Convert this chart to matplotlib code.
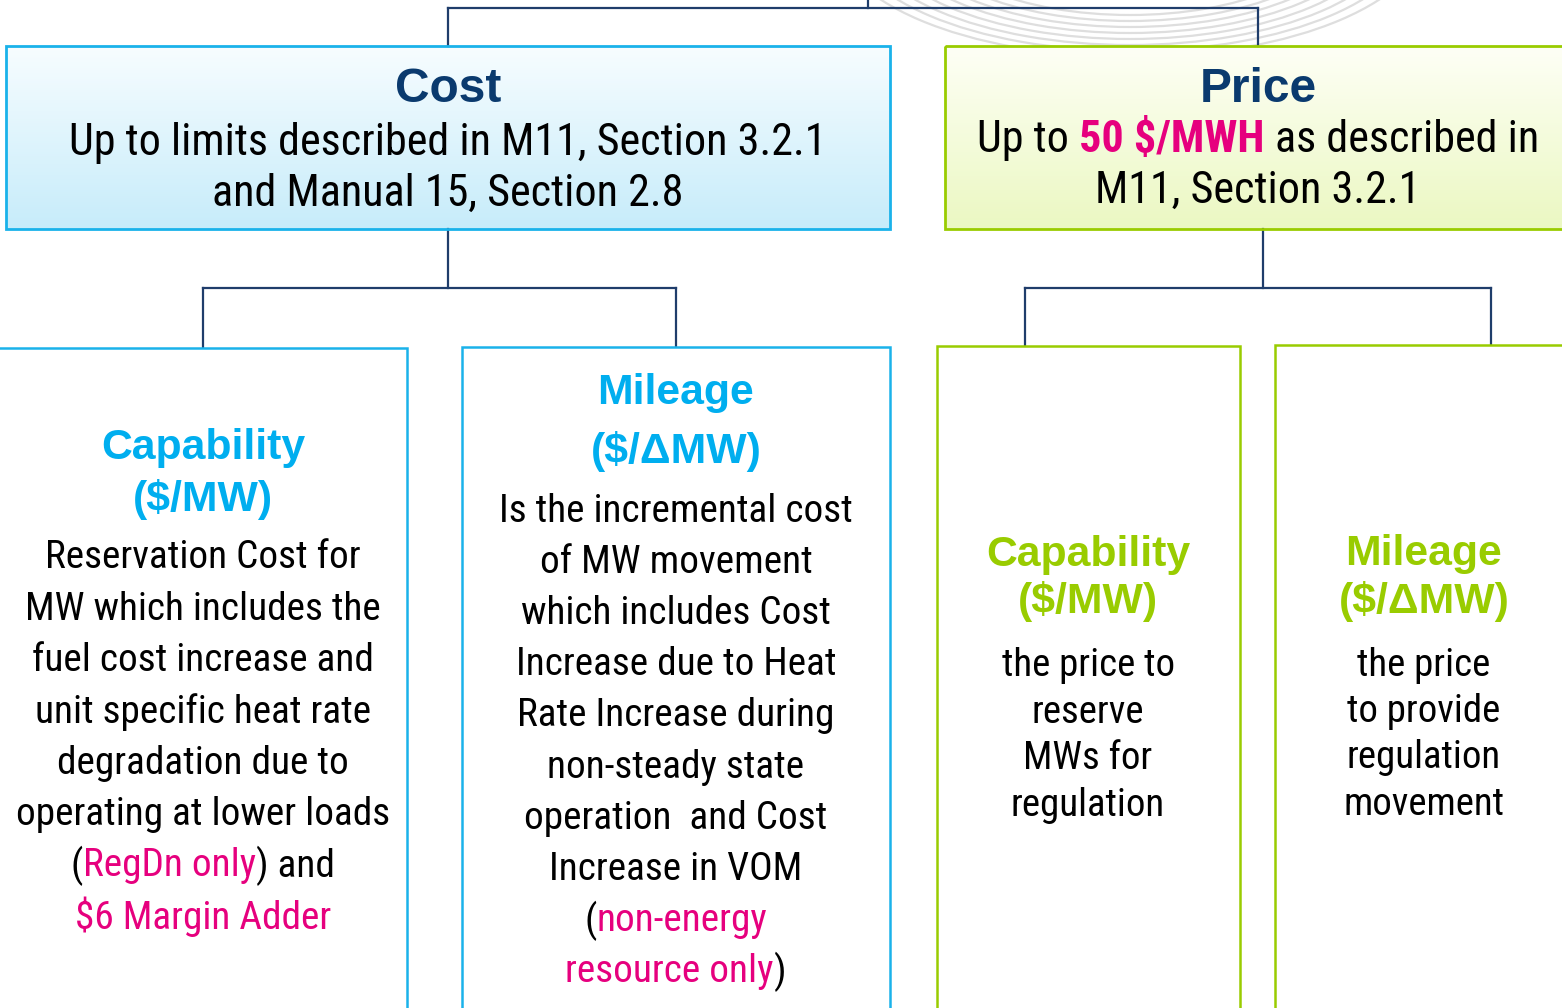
import numpy as np
import matplotlib.pyplot as plt
from matplotlib.patches import Rectangle, Arc
from matplotlib.colors import to_rgb

NAVY = "#0a3a6e"
LINE = "#1f3d6b"
CYAN = "#1ab2ea"
CYAN_TXT = "#00aeef"
GREEN = "#99cc00"
PINK = "#e6007e"
FONT = ["Roboto Condensed", "DejaVu Sans"]
HFONT = ["Liberation Sans", "DejaVu Sans"]

# text content of the diagram (segments are (text, colour))
cost_title = "Cost"
cost_lines = [[("Up to limits described in M11, Section 3.2.1", "black")],
              [("and Manual 15, Section 2.8", "black")]]
price_title = "Price"
price_lines = [[("Up to ", "black"), ("50 $/MWH", PINK, "bold"), (" as described in", "black")],
               [("M11, Section 3.2.1", "black")]]

cap_cost_head = ["Capability", "($/MW)"]
cap_cost_body = [[("Reservation Cost for", "black")],
                 [("MW which includes the", "black")],
                 [("fuel cost increase and", "black")],
                 [("unit specific heat rate", "black")],
                 [("degradation due to", "black")],
                 [("operating at lower loads", "black")],
                 [("(", "black"), ("RegDn only", PINK), (") and", "black")],
                 [("$6 Margin Adder", PINK)]]

mil_cost_head = ["Mileage", "($/\u0394MW)"]
mil_cost_body = [[("Is the incremental cost", "black")],
                 [("of MW movement", "black")],
                 [("which includes Cost", "black")],
                 [("Increase due to Heat", "black")],
                 [("Rate Increase during", "black")],
                 [("non-steady state", "black")],
                 [("operation  and Cost", "black")],
                 [("Increase in VOM", "black")],
                 [("(", "black"), ("non-energy", PINK)],
                 [("resource only", PINK), (")", "black")]]

cap_price_head = ["Capability", "($/MW)"]
cap_price_body = ["the price to", "reserve", "MWs for", "regulation"]
mil_price_head = ["Mileage", "($/\u0394MW)"]
mil_price_body = ["the price", "to provide", "regulation", "movement"]

W, H = 1562, 1008
fig = plt.figure(figsize=(W / 100, H / 100), dpi=100)
ax = fig.add_axes([0, 0, 1, 1])
ax.set_xlim(0, W)
ax.set_ylim(H, 0)
ax.axis("off")
renderer = fig.canvas.get_renderer()
DY = 3  # small downward nudge for text


def width_of(s, size, weight):
    if not s:
        return 0.0
    t = ax.text(0, 0, s, fontsize=size, fontweight=weight, family=FONT)
    w = t.get_window_extent(renderer).width
    t.remove()
    return w


def rich_line(cx, y, segs, size, weight="normal"):
    full = "".join(s[0] for s in segs)
    total = width_of(full, size, weight)
    left = cx - total / 2
    ref = width_of("I", size, weight)
    pos = 0
    for seg in segs:
        txt, col = seg[0], seg[1]
        wt = seg[2] if len(seg) > 2 else weight
        stripped = txt.lstrip(" ")
        pre = full[:pos + len(txt) - len(stripped)]
        off = width_of(pre + "I", size, weight) - ref if pre else 0
        ax.text(left + off, y + DY, stripped, fontsize=size, fontweight=wt, color=col,
                family=FONT, ha="left", va="center", zorder=3)
        pos += len(txt)


def heading(cx, y, s, size, color):
    ax.text(cx, y + DY, s, fontsize=size, fontweight="bold", color=color, family=HFONT,
            ha="center", va="center", zorder=3)


def gradient_box(x0, y0, x1, y1, top, bottom, edge):
    c0, c1 = np.array(to_rgb(top)), np.array(to_rgb(bottom))
    f = np.linspace(0, 1, 100)[:, None, None]
    img = c0 * (1 - f) + c1 * f
    ax.imshow(img, extent=(x0, x1, y1, y0), origin="upper", aspect="auto", zorder=1)
    ax.add_patch(Rectangle((x0, y0), x1 - x0, y1 - y0, fill=False, ec=edge, lw=2, zorder=2))


def plain_box(x0, y0, x1, y1, edge):
    ax.add_patch(Rectangle((x0, y0), x1 - x0, y1 - y0, fc="white", ec=edge, lw=1.8, zorder=2))


# faint background swirl behind the top connector
for i in range(8):
    ax.add_patch(Arc((1130, -70), 2 * (200 + i * 14), 2 * (85 + i * 6),
                     color="#dedede", lw=1.6, zorder=0))

# connectors
lk = dict(color=LINE, lw=1.6, zorder=1.5)
ax.plot([868, 868], [0, 8], **lk)
ax.plot([448, 1258], [8, 8], **lk)
ax.plot([448, 448], [8, 46], **lk)
ax.plot([1258, 1258], [8, 46], **lk)
ax.plot([448, 448], [229, 288], **lk)
ax.plot([203, 676], [288, 288], **lk)
ax.plot([203, 203], [288, 348], **lk)
ax.plot([676, 676], [288, 347], **lk)
ax.plot([1263, 1263], [229, 288], **lk)
ax.plot([1025, 1491], [288, 288], **lk)
ax.plot([1025, 1025], [288, 346], **lk)
ax.plot([1491, 1491], [288, 345], **lk)

# boxes
gradient_box(6, 46, 890, 229, "#f7fdff", "#c7ecfa", CYAN)
gradient_box(945, 46, 1566, 229, "#fefff6", "#ebf8c2", GREEN)
plain_box(-2, 348, 407, 1012, CYAN)
plain_box(462, 347, 890, 1012, CYAN)
plain_box(937, 346, 1240, 1012, GREEN)
plain_box(1275, 345, 1566, 1012, GREEN)

TITLE = 34.5
TOP_BODY = 31.8
HEAD = 30.8
BODY = 28.3
P_BODY = 28

# top boxes
heading(448, 86, cost_title, TITLE, NAVY)
for y, segs in zip([140, 191], cost_lines):
    rich_line(448, y, segs, TOP_BODY)
heading(1258, 86, price_title, TITLE, NAVY)
for y, segs in zip([137, 188], price_lines):
    rich_line(1258, y, segs, TOP_BODY)

# cost sub boxes
for y, s in zip([445, 497], cap_cost_head):
    heading(203, y, s, HEAD, CYAN_TXT)
for i, segs in enumerate(cap_cost_body):
    rich_line(203, 555 + i * 51.3, segs, BODY)

for y, s in zip([390, 449], mil_cost_head):
    heading(676, y, s, HEAD, CYAN_TXT)
for i, segs in enumerate(mil_cost_body):
    rich_line(676, 508 + i * 51.2, segs, BODY)

# price sub boxes
for y, s in zip([552, 599], cap_price_head):
    heading(1088, y, s, HEAD, GREEN)
for i, s in enumerate(cap_price_body):
    ax.text(1088, 663 + i * 46.4 + DY, s, fontsize=P_BODY, color="black", family=FONT,
            ha="center", va="center", zorder=3)

for y, s in zip([551, 598], mil_price_head):
    heading(1424, y, s, HEAD, GREEN)
for i, s in enumerate(mil_price_body):
    ax.text(1424, 662 + i * 46.4 + DY, s, fontsize=P_BODY, color="black", family=FONT,
            ha="center", va="center", zorder=3)

fig.savefig("out.png", dpi=100)
